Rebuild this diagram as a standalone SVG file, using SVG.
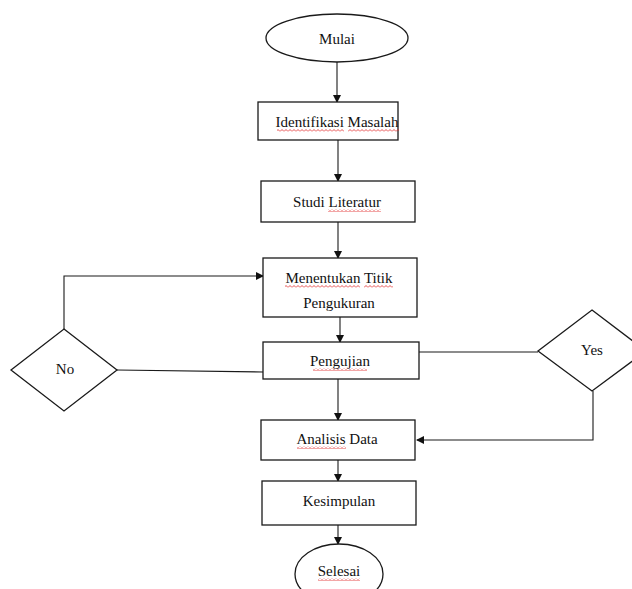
<svg xmlns="http://www.w3.org/2000/svg" width="632" height="589" viewBox="0 0 632 589">
<style>
.shape{fill:#fff;stroke:#1a1a1a;stroke-width:1.3}
.line{fill:none;stroke:#1a1a1a;stroke-width:1.1}
.t{font-family:"Liberation Serif","Times New Roman",serif;font-size:15px;fill:#111;text-anchor:middle}
.sq{fill:url(#squig)}
</style>
<defs>
<pattern id="squig" x="0" y="0" width="4" height="3" patternUnits="userSpaceOnUse">
<path d="M0,2.5 L2,0.5 L4,2.5" fill="none" stroke="#e02020" stroke-width="0.8"/>
</pattern>
<marker id="arr" markerWidth="8" markerHeight="8" refX="7" refY="4" orient="auto" markerUnits="userSpaceOnUse">
<path d="M0,0 L8,4 L0,8 Z" fill="#111"/>
</marker>
</defs>
<rect width="632" height="589" fill="#fff"/>
<g id="connectors">
<line class="line" x1="337" y1="62" x2="337" y2="102" marker-end="url(#arr)"/>
<line class="line" x1="338" y1="140" x2="338" y2="181" marker-end="url(#arr)"/>
<line class="line" x1="338" y1="222" x2="338" y2="258" marker-end="url(#arr)"/>
<line class="line" x1="340" y1="317" x2="340" y2="342" marker-end="url(#arr)"/>
<line class="line" x1="338" y1="379" x2="338" y2="420" marker-end="url(#arr)"/>
<line class="line" x1="338" y1="460" x2="338" y2="481" marker-end="url(#arr)"/>
<line class="line" x1="338" y1="525" x2="338" y2="544" marker-end="url(#arr)"/>
<polyline class="line" points="64,329 64,276 263,276" marker-end="url(#arr)"/>
<line class="line" x1="117" y1="370" x2="263" y2="372"/>
<line class="line" x1="419" y1="352" x2="538" y2="352"/>
<polyline class="line" points="593,391 593,440 417,440" marker-end="url(#arr)"/>
</g>
<g id="mulai">
<ellipse class="shape" cx="337" cy="38" rx="71" ry="24"/>
<text class="t" x="337" y="44" font-size="16">Mulai</text>
</g>
<g id="identifikasi">
<rect class="shape" x="258" y="102" width="140" height="38"/>
<text class="t" x="337" y="127">Identifikasi Masalah</text>
<rect class="sq" x="277" y="129" width="67" height="3"/>
<rect class="sq" x="348" y="129" width="51" height="3"/>
</g>
<g id="studi">
<rect class="shape" x="261" y="181" width="154" height="41"/>
<text class="t" x="337" y="207">Studi Literatur</text>
<rect class="sq" x="328" y="209" width="53" height="3"/>
</g>
<g id="menentukan">
<rect class="shape" x="263" y="258" width="154" height="59"/>
<text class="t" x="339" y="283">Menentukan Titik</text>
<text class="t" x="339" y="308">Pengukuran</text>
<rect class="sq" x="285" y="285" width="75" height="3"/>
<rect class="sq" x="364" y="285" width="29" height="3"/>
</g>
<g id="no">
<polygon class="shape" points="64,329 117,370 64,411 11,370"/>
<text class="t" x="65" y="374" font-size="14">No</text>
</g>
<g id="pengujian">
<rect class="shape" x="263" y="342" width="156" height="37"/>
<text class="t" x="340" y="366" font-size="13.5">Pengujian</text>
<rect class="sq" x="313" y="368" width="54" height="3"/>
</g>
<g id="yes">
<polygon class="shape" points="592,310 646,351 592,391 538,351"/>
<text class="t" x="592" y="355">Yes</text>
</g>
<g id="analisis">
<rect class="shape" x="261" y="420" width="154" height="40"/>
<text class="t" x="337" y="444">Analisis Data</text>
<rect class="sq" x="297" y="446" width="49" height="3"/>
</g>
<g id="kesimpulan">
<rect class="shape" x="262" y="481" width="154" height="44"/>
<text class="t" x="339" y="506">Kesimpulan</text>
</g>
<g id="selesai">
<ellipse class="shape" cx="339" cy="574" rx="44" ry="30"/>
<text class="t" x="339" y="576">Selesai</text>
<rect class="sq" x="318" y="578" width="42" height="3"/>
</g>
</svg>
